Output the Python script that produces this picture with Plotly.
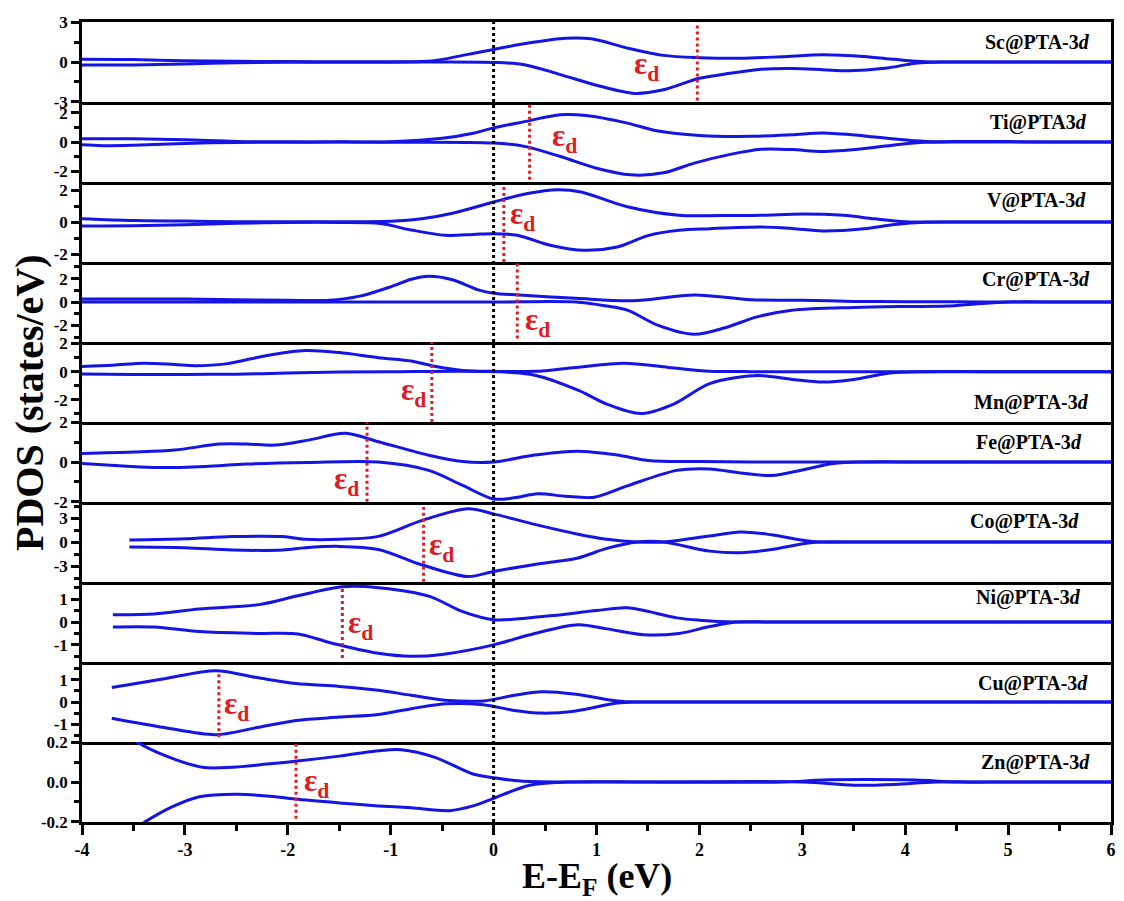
import plotly.graph_objects as go
from plotly.subplots import make_subplots

# ---- spin-resolved 3d PDOS of TM@PTA (energy in eV relative to E_F) ----
SC_E  = [-4, -3.5, -3, -2.5, -2, -1.5, -1, -0.6, -0.3, 0, 0.35, 0.7, 0.95, 1.3, 1.65, 2.0, 2.4, 2.8, 3.2, 3.6, 3.9, 4.2, 4.5, 5, 6]
SC_UP = [0.2, 0.18, 0.1, 0.05, 0.03, 0.02, 0.02, 0.08, 0.5, 0.95, 1.45, 1.8, 1.75, 1.05, 0.5, 0.33, 0.28, 0.4, 0.55, 0.42, 0.2, 0.02, 0, 0, 0]
SC_DE = [-4, -3.5, -3, -2.5, -2, -1, 0, 0.3, 0.65, 1.0, 1.37, 1.65, 2.0, 2.3, 2.6, 2.9, 3.2, 3.45, 3.8, 4.1, 4.4, 4.8, 5.4, 6]
SC_DN = [-0.23, -0.22, -0.15, -0.05, -0.02, -0.01, -0.03, -0.2, -0.95, -1.75, -2.37, -2.1, -1.23, -0.85, -0.55, -0.5, -0.58, -0.66, -0.48, -0.1, 0, 0, 0, 0]

TI_E  = [-4, -3.5, -3, -2.5, -2, -1.5, -1, -0.5, -0.2, 0, 0.3, 0.65, 0.9, 1.3, 1.6, 2.0, 2.5, 2.9, 3.2, 3.6, 3.9, 4.2, 4.6, 5, 5.3, 6]
TI_UP = [0.23, 0.22, 0.15, 0.04, 0.01, 0.01, 0.02, 0.25, 0.6, 0.97, 1.4, 1.88, 1.82, 1.3, 0.75, 0.45, 0.39, 0.5, 0.62, 0.42, 0.2, 0.04, 0.03, 0.03, 0, 0]
TI_DE = [-4, -3.8, -3.5, -3, -2.5, -2, -1, 0, 0.3, 0.65, 1.0, 1.33, 1.65, 1.95, 2.3, 2.6, 2.9, 3.2, 3.6, 3.9, 4.2, 4.6, 5.2, 6]
TI_DN = [-0.19, -0.25, -0.22, -0.1, -0.03, -0.01, -0.01, -0.07, -0.3, -1.0, -1.8, -2.26, -2.12, -1.45, -0.85, -0.5, -0.52, -0.65, -0.45, -0.2, -0.02, 0, 0, 0]

V_E   = [-4, -3.5, -3, -2.5, -2, -1.5, -1, -0.7, -0.4, 0, 0.33, 0.62, 0.85, 1.3, 1.8, 2.2, 2.6, 3.0, 3.4, 3.7, 4.0, 4.4, 5, 6]
V_UP  = [0.21, 0.1, 0.06, 0.02, 0.01, 0.02, 0.05, 0.2, 0.55, 1.25, 1.78, 2.02, 1.88, 0.95, 0.42, 0.4, 0.42, 0.5, 0.42, 0.2, 0.02, 0, 0, 0]
V_DE  = [-4, -3.5, -3, -2.5, -2, -1.5, -1.1, -0.8, -0.47, -0.2, 0, 0.23, 0.55, 0.88, 1.2, 1.5, 1.8, 2.1, 2.6, 2.9, 3.2, 3.6, 3.9, 4.2, 4.6, 5.2, 6]
V_DN  = [-0.25, -0.24, -0.17, -0.08, -0.03, -0.03, -0.1, -0.5, -0.83, -0.78, -0.73, -0.83, -1.45, -1.77, -1.56, -0.85, -0.52, -0.42, -0.31, -0.4, -0.56, -0.42, -0.15, -0.01, 0, 0, 0]

CR_E  = [-4, -3, -2.5, -2, -1.6, -1.3, -1.0, -0.8, -0.63, -0.4, -0.15, 0, 0.25, 0.8, 1.35, 1.95, 2.5, 3.0, 3.5, 4.0, 4.5, 5, 5.5, 6]
CR_UP = [0.26, 0.26, 0.2, 0.15, 0.15, 0.5, 1.3, 1.95, 2.2, 1.9, 1.04, 0.75, 0.6, 0.32, 0.11, 0.6, 0.2, 0.15, 0.05, 0.03, 0.02, 0, 0, 0]
CR_DE = [-4, -2, -1, 0, 0.8, 1.1, 1.3, 1.6, 1.95, 2.25, 2.56, 2.9, 3.5, 4.0, 4.4, 4.7, 5.0, 5.5, 6]
CR_DN = [0, 0, 0, 0, 0, -0.35, -0.7, -2.0, -2.76, -2.2, -1.27, -0.7, -0.46, -0.38, -0.35, -0.15, 0, 0, 0]

MN_E  = [-4, -3.7, -3.4, -3.1, -2.9, -2.6, -2.2, -1.83, -1.5, -1.12, -0.8, -0.6, -0.3, 0, 0.4, 0.8, 1.27, 1.7, 2.1, 2.5, 3.5, 6]
MN_UP = [0.37, 0.45, 0.6, 0.5, 0.42, 0.55, 1.15, 1.5, 1.35, 0.99, 0.75, 0.42, 0.08, 0.02, 0.02, 0.3, 0.6, 0.3, 0.03, 0, 0, 0]
MN_DE = [-4, -3.5, -3, -2.5, -2, -1.5, -1, 0, 0.4, 0.82, 1.1, 1.43, 1.75, 2.1, 2.56, 2.9, 3.2, 3.5, 3.85, 4.2, 4.8, 6]
MN_DN = [-0.16, -0.2, -0.2, -0.18, -0.1, -0.03, 0, 0, -0.25, -1.31, -2.3, -2.97, -2.3, -0.85, -0.28, -0.55, -0.74, -0.55, -0.1, 0, 0, 0]

FE_E  = [-4, -3.5, -3.1, -2.66, -2.4, -2.12, -1.8, -1.44, -1.12, -0.63, -0.3, 0, 0.4, 0.82, 1.2, 1.5, 2.0, 2.5, 3.5, 6]
FE_UP = [0.43, 0.5, 0.6, 0.9, 0.9, 0.85, 1.1, 1.44, 1.02, 0.34, 0.02, 0, 0.35, 0.54, 0.35, 0.08, 0.02, 0, 0, 0]
FE_DE = [-4, -3.6, -3.25, -2.8, -2.4, -1.8, -1.12, -0.63, -0.3, 0, 0.2, 0.43, 0.7, 0.98, 1.3, 1.78, 2.1, 2.4, 2.7, 3.0, 3.3, 3.6, 4.2, 6]
FE_DN = [-0.08, -0.2, -0.28, -0.22, -0.1, -0.02, 0, -0.42, -1.18, -1.86, -1.8, -1.6, -1.72, -1.77, -1.2, -0.42, -0.35, -0.55, -0.68, -0.4, -0.08, 0, 0, 0]

CO_E  = [-3.54, -3.0, -2.54, -2.05, -1.83, -1.5, -1.12, -0.7, -0.25, 0, 0.4, 0.82, 1.1, 1.4, 1.65, 2.1, 2.4, 2.7, 3.1, 3.5, 4.2, 6]
CO_UP = [0.25, 0.4, 0.68, 0.68, 0.34, 0.34, 0.7, 2.67, 4.15, 3.52, 2.2, 0.98, 0.35, 0, 0, 0.76, 1.25, 0.9, 0.05, 0, 0, 0]
CO_DN = [-0.64, -0.72, -1.0, -1.0, -0.72, -0.55, -0.93, -2.84, -4.32, -3.68, -2.8, -1.99, -0.8, 0, 0, -1.14, -1.35, -0.95, -0.05, 0, 0, 0]

NI_E  = [-3.7, -3.3, -2.86, -2.28, -1.89, -1.47, -1.12, -0.63, -0.3, 0, 0.5, 1.0, 1.3, 1.78, 2.0, 2.36, 2.7, 3.5, 6]
NI_UP = [0.32, 0.35, 0.57, 0.76, 1.16, 1.54, 1.5, 1.13, 0.45, 0.1, 0.25, 0.5, 0.62, 0.18, 0.08, 0, 0, 0, 0]
NI_DE = [-3.7, -3.3, -2.86, -2.3, -1.9, -1.57, -1.12, -0.8, -0.5, 0, 0.4, 0.82, 1.1, 1.46, 1.8, 2.1, 2.36, 2.7, 3.5, 6]
NI_DN = [-0.22, -0.22, -0.42, -0.5, -0.52, -0.93, -1.37, -1.5, -1.42, -1.0, -0.5, -0.12, -0.3, -0.56, -0.5, -0.2, 0, 0, 0, 0]

CU_E  = [-3.71, -3.2, -2.7, -2.3, -1.92, -1.5, -1.12, -0.8, -0.47, -0.1, 0.2, 0.47, 0.8, 1.2, 1.4, 1.8, 3, 6]
CU_UP = [0.65, 1.05, 1.41, 1.1, 0.83, 0.7, 0.53, 0.3, 0.08, 0.05, 0.3, 0.46, 0.35, 0.05, 0, 0, 0, 0]
CU_DN = [-0.73, -1.15, -1.47, -1.15, -0.83, -0.68, -0.56, -0.3, -0.08, -0.12, -0.38, -0.5, -0.4, -0.05, 0, 0, 0, 0]

ZN_E  = [-3.6, -3.46, -3.18, -2.83, -2.54, -2.2, -1.93, -1.5, -1.12, -0.9, -0.57, -0.2, 0, 0.26, 0.72, 1.5, 2.8, 3.2, 3.6, 4.1, 4.5, 5, 6]
ZN_UP = [0.26, 0.2, 0.13, 0.074, 0.074, 0.09, 0.104, 0.13, 0.157, 0.162, 0.124, 0.04, 0.022, 0.005, 0, 0, 0, 0.01, 0.012, 0.01, 0, 0, 0]
ZN_DE = [-3.5, -3.38, -3.12, -2.86, -2.5, -2.2, -1.93, -1.5, -1.12, -0.8, -0.43, -0.2, 0, 0.35, 0.72, 1.5, 3.0, 3.5, 3.9, 4.3, 5, 6]
ZN_DN = [-0.24, -0.198, -0.124, -0.074, -0.061, -0.07, -0.086, -0.105, -0.12, -0.13, -0.144, -0.12, -0.082, -0.016, 0, 0, 0, -0.016, -0.012, 0, 0, 0]

SYSTEMS = ["Sc@PTA-3<i>d</i>", "Ti@PTA3<i>d</i>", "V@PTA-3<i>d</i>", "Cr@PTA-3<i>d</i>",
           "Mn@PTA-3<i>d</i>", "Fe@PTA-3<i>d</i>", "Co@PTA-3<i>d</i>", "Ni@PTA-3<i>d</i>",
           "Cu@PTA-3<i>d</i>", "Zn@PTA-3<i>d</i>"]
# d-band centre of each system (eV)
EPS_D = [1.98, 0.35, 0.10, 0.23, -0.60, -1.23, -0.68, -1.47, -2.67, -1.92]

CURVES = [
    (SC_E, SC_UP, SC_DE, SC_DN), (TI_E, TI_UP, TI_DE, TI_DN), (V_E, V_UP, V_DE, V_DN),
    (CR_E, CR_UP, CR_DE, CR_DN), (MN_E, MN_UP, MN_DE, MN_DN), (FE_E, FE_UP, FE_DE, FE_DN),
    (CO_E, CO_UP, CO_E, CO_DN), (NI_E, NI_UP, NI_DE, NI_DN), (CU_E, CU_UP, CU_E, CU_DN),
    (ZN_E, ZN_UP, ZN_DE, ZN_DN),
]

# ---- per-panel axis layout ----
Y_RANGES = [(-3.02, 3.02), (-2.75, 2.75), (-2.5, 2.5), (-3.42, 3.42), (-3.57, 2.1),
            (-2.01, 2.01), (-5.0, 5.0), (-1.75, 1.75), (-1.8, 1.8), (-0.201, 0.201)]
Y_TICKS = [[-3, 0, 3], [-2, 0, 2], [-2, 0, 2], [-2, 0, 2], [-2, 0, 2],
           [-2, 0, 2], [-3, 0, 3], [-1, 0, 1], [-1, 0, 1], [-0.2, 0.0, 0.2]]
Y_MINOR = [[-1.5, 1.5], [-1, 1], [-1, 1], [-3, -1, 1, 3], [-3, -1, 1],
           [-1, 1], [-4.5, -1.5, 1.5, 4.5], [-1.5, -0.5, 0.5, 1.5], [-1.5, -0.5, 0.5, 1.5], [-0.1, 0.1]]
X_TICKS = [-4, -3, -2, -1, 0, 1, 2, 3, 4, 5, 6]
X_MINOR = [-3.5, -2.5, -1.5, -0.5, 0.5, 1.5, 2.5, 3.5, 4.5, 5.5]

# vertical extent of each epsilon_d marker (data units of its panel)
EPS_SPAN = [(-2.9, 2.95), (-2.6, 2.7), (-2.5, 2.3), (-3.13, 3.4), (-3.57, 2.1),
            (-2.0, 2.0), (-4.96, 4.36), (-1.57, 1.51), (-1.59, 1.36), (-0.185, 0.2)]
EPS_LABEL_POS = [(1.49, -0.3), (0.69, 0.3), (0.285, 0.36), (0.43, -1.74), (-0.78, -1.45),
                 (-1.43, -0.93), (-0.51, -0.64), (-1.29, -0.12), (-2.5, -0.2), (-1.72, -0.006)]
NAME_POS = [(5.82, 1.44), (5.79, 1.33), (5.78, 1.36), (5.82, 1.91), (5.81, -2.2),
            (5.74, 1.0), (5.71, 2.54), (5.73, 1.07), (5.8, 0.85), (5.82, 0.098)]

BLUE = "#1414e6"
RED = "#e01b24"
FONT = "Liberation Serif"
N = len(SYSTEMS)


def bold_label(v, decimals):
    s = f"{v:.{decimals}f}"
    return f"<b>{s}</b>"


fig = make_subplots(rows=N, cols=1, shared_xaxes=True, vertical_spacing=0)

for i, (eu, up, ed, dn) in enumerate(CURVES):
    r = i + 1
    line = dict(color=BLUE, width=3, shape="spline", smoothing=0.9)
    fig.add_trace(go.Scatter(x=eu, y=up, mode="lines", line=line, showlegend=False, hoverinfo="skip"), row=r, col=1)
    fig.add_trace(go.Scatter(x=ed, y=dn, mode="lines", line=line, showlegend=False, hoverinfo="skip"), row=r, col=1)

    dec = 1 if i == N - 1 else 0
    fig.update_yaxes(row=r, col=1, range=list(Y_RANGES[i]),
                     tickmode="array", tickvals=Y_TICKS[i], ticktext=[bold_label(v, dec) for v in Y_TICKS[i]],
                     showline=True, linewidth=2.5, linecolor="black", mirror=True,
                     ticks="outside", ticklen=8, tickwidth=2.5, tickcolor="black",
                     minor=dict(tickmode="array", tickvals=Y_MINOR[i], ticks="outside", ticklen=5,
                                tickwidth=2.5, tickcolor="black"),
                     showgrid=False, zeroline=False,
                     tickfont=dict(family=FONT, size=17, color="black"))

    yref = "y" if r == 1 else f"y{r}"
    xref = "x" if r == 1 else f"x{r}"
    y0, y1 = EPS_SPAN[i]
    fig.add_shape(type="line", xref=xref, yref=yref, x0=EPS_D[i], x1=EPS_D[i], y0=y0, y1=y1,
                  line=dict(color=RED, width=3, dash="dot"))
    lx, ly = EPS_LABEL_POS[i]
    fig.add_annotation(xref=xref, yref=yref, x=lx, y=ly, text="<b>ε<sub>d</sub></b>", showarrow=False,
                       font=dict(family=FONT, size=31, color=RED))
    nx, ny = NAME_POS[i]
    fig.add_annotation(xref=xref, yref=yref, x=nx, y=ny, xanchor="right", text="<b>" + SYSTEMS[i] + "</b>",
                       showarrow=False, font=dict(family=FONT, size=20, color="black"),
                       bgcolor="white" if i == N - 1 else None)

for r in range(1, N + 1):
    bottom = r == N
    fig.update_xaxes(row=r, col=1, range=[-4, 6], showline=True, linewidth=2.5, linecolor="black",
                     mirror=(r == 1), showgrid=False, zeroline=False, showticklabels=bottom,
                     tickmode="array", tickvals=X_TICKS, ticktext=[bold_label(v, 0) for v in X_TICKS],
                     ticks="outside" if bottom else "", ticklen=10, tickwidth=2.5, tickcolor="black",
                     minor=dict(tickmode="array", tickvals=X_MINOR, ticks="outside" if bottom else "",
                                ticklen=6, tickwidth=2.5, tickcolor="black"),
                     tickfont=dict(family=FONT, size=18, color="black"))

# Fermi level
fig.add_shape(type="line", xref="x", yref="paper", x0=0, x1=0, y0=0, y1=1,
              line=dict(color="black", width=3, dash="dot"))

fig.add_annotation(xref="paper", yref="paper", x=0.5, y=-0.07, xanchor="center", yanchor="middle",
                   text="<b>E-E<sub>F</sub> (eV)</b>", showarrow=False,
                   font=dict(family=FONT, size=36, color="black"))
fig.add_annotation(xref="paper", yref="paper", x=-0.0503, y=0.524, xanchor="center", yanchor="middle",
                   textangle=-90, text="<b>PDOS (states/eV)</b>", showarrow=False,
                   font=dict(family=FONT, size=40, color="black"))

fig.update_layout(width=1124, height=901, margin=dict(l=82, r=8, t=22, b=79),
                  plot_bgcolor="white", paper_bgcolor="white", showlegend=False)

fig.write_html("out.html")
